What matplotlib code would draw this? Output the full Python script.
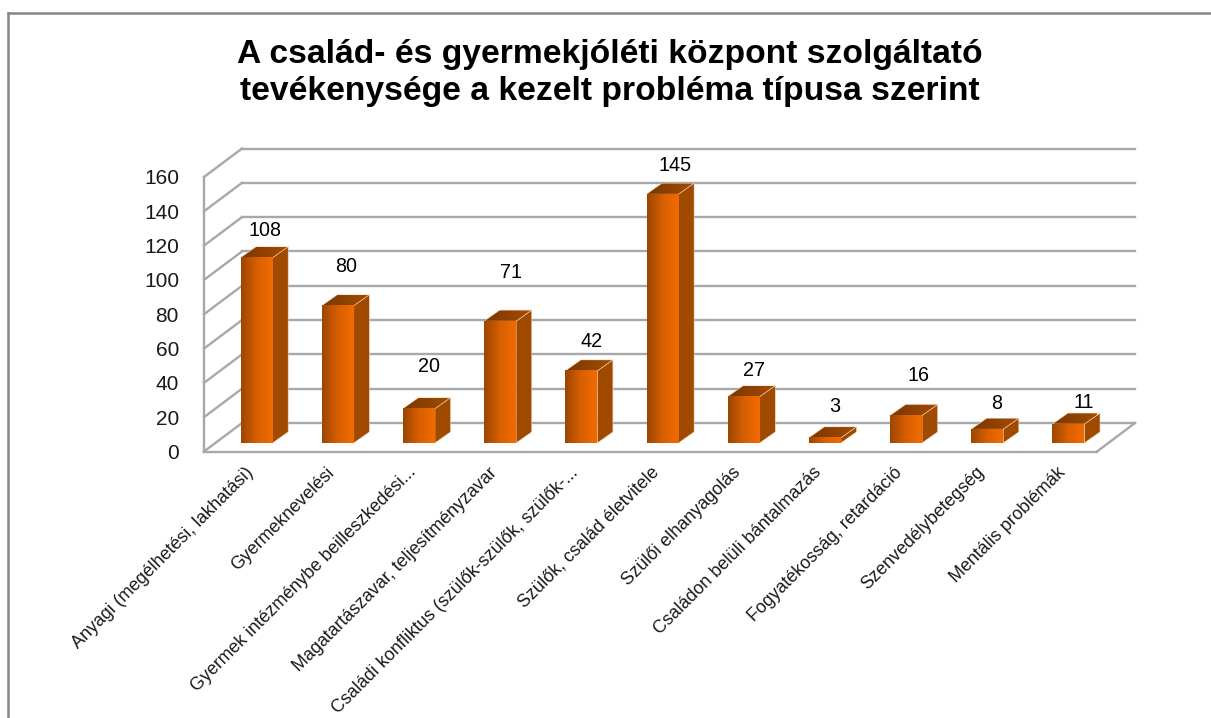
import numpy as np
import matplotlib
matplotlib.use('Agg')
import matplotlib.pyplot as plt
from matplotlib.colors import LinearSegmentedColormap
from matplotlib.lines import Line2D
from matplotlib.patches import Polygon

plt.rcParams['font.family'] = ['Liberation Sans', 'DejaVu Sans']

title = 'A család- és gyermekjóléti központ szolgáltató\ntevékenysége a kezelt probléma típusa szerint'

categories = [
    'Anyagi (megélhetési, lakhatási)',
    'Gyermeknevelési',
    'Gyermek intézménybe beilleszkedési...',
    'Magatartászavar, teljesítményzavar',
    'Családi konfliktus (szülők-szülők, szülők-...',
    'Szülők, család életvitele',
    'Szülői elhanyagolás',
    'Családon belüli bántalmazás',
    'Fogyatékosság, retardáció',
    'Szenvedélybetegség',
    'Mentális problémák',
]
values = [108, 80, 20, 71, 42, 145, 27, 3, 16, 8, 11]
y_ticks = [0, 20, 40, 60, 80, 100, 120, 140, 160]

# hand placed data labels, pixels from the middle of the bar top
label_dx = [8, 8, 10, 11, 10, 13, 10, 10, 12, 9, 15]
label_lift = [27, 39, 42, 49, 29, 29, 26, 31, 40, 26, 22]

W, H = 1211, 718
# plot box in pixels: front left corner of the floor and top of the axis
LEFT, RIGHT, TOP, BOTTOM = 204, 1097, 177, 451.5

fig = plt.figure(figsize=(W / 100, H / 100), dpi=100, facecolor='white')
ax = fig.add_axes([LEFT / W, 1 - BOTTOM / H, (RIGHT - LEFT) / W, (BOTTOM - TOP) / H])
ax.set_xlim(-0.5, len(values) - 0.5)
ax.set_ylim(0, 160)
ax.patch.set_visible(False)
for spine in ax.spines.values():
    spine.set_visible(False)

# depth of the 3d box and of a bar, in data units
wall_dx, wall_dy = 38 / 81.2, 28.5 / 1.716
bar_w = 32 / 81.2
bar_dx, bar_dy = 15.6 / 81.2, 11 / 1.716
shift_x, shift_y = 12 / 81.2, 5.0

grid_color = '#a8a8a8'
x0, x1 = -0.5, len(values) - 0.5


def wall_line(xs, ys):
    ax.plot(xs, ys, color=grid_color, lw=1.7, clip_on=False, zorder=1, solid_capstyle='projecting')


for t in y_ticks:
    wall_line([x0, x0 + wall_dx], [t, t + wall_dy])
    wall_line([x0 + wall_dx, x1 + wall_dx], [t + wall_dy, t + wall_dy])
wall_line([x0, x0], [0, 160])
wall_line([x0, x1], [0, 0])
wall_line([x1, x1 + wall_dx], [0, wall_dy])

front_cmap = LinearSegmentedColormap.from_list('front', ['#9c4600', '#d85f00', '#f26b00'])
top_cmap = LinearSegmentedColormap.from_list('top', ['#7a3700', '#a54c00'])
ramp = np.linspace(0, 1, 64).reshape(1, -1)
halo = '#f3d3b8'

for i, v in enumerate(values):
    left = i - bar_w / 2 + shift_x
    right = left + bar_w
    base = shift_y
    top = v + shift_y
    z = 3 + i

    side = Polygon([(right, base), (right + bar_dx, base + bar_dy),
                    (right + bar_dx, top + bar_dy), (right, top)],
                   facecolor='#a04a00', edgecolor=halo, lw=0.4, zorder=z, clip_on=False)
    ax.add_patch(side)

    lid = Polygon([(left, top), (left + bar_dx, top + bar_dy),
                   (right + bar_dx, top + bar_dy), (right, top)],
                  facecolor='none', edgecolor=halo, lw=0.4, zorder=z + 0.2, clip_on=False)
    ax.add_patch(lid)
    im = ax.imshow(ramp, cmap=top_cmap, extent=(left, right + bar_dx, top, top + bar_dy),
                   aspect='auto', zorder=z + 0.1, clip_on=True)
    im.set_clip_path(lid)

    im = ax.imshow(ramp, cmap=front_cmap, extent=(left, right, base, top),
                   aspect='auto', zorder=z + 0.3, clip_on=False)

    ax.annotate(str(v), xy=(i + shift_x, top), xytext=(label_dx[i] * 0.72, label_lift[i] * 0.72),
                textcoords='offset points', ha='center', va='center',
                fontsize=14.2, color='black', zorder=30, annotation_clip=False)

ax.set_xlim(x0, x1)
ax.set_ylim(0, 160)

ax.set_yticks(y_ticks)
ax.set_yticklabels([str(t) for t in y_ticks], fontsize=15, color='#1a1a1a')
ax.tick_params(axis='y', length=0, pad=18)
ax.set_xticks(range(len(categories)))
ax.set_xticklabels(categories, rotation=45, ha='right', va='top', rotation_mode='anchor',
                   fontsize=12.9, color='#1a1a1a')
ax.tick_params(axis='x', length=0, pad=9)

fig.text(610 / W, 1 - 73 / H, title, ha='center', va='center', fontsize=24.2,
         fontweight='bold', color='black', linespacing=1.24)

# chart border, runs off the right and bottom of the picture
fig.add_artist(Line2D([7.5 / W, 7.5 / W], [0, 1 - 12.5 / H], color='#868686', lw=1.8))
fig.add_artist(Line2D([7.5 / W, 1], [1 - 12.5 / H, 1 - 12.5 / H], color='#868686', lw=1.8))

fig.savefig('out.png', dpi=100, facecolor='white')
